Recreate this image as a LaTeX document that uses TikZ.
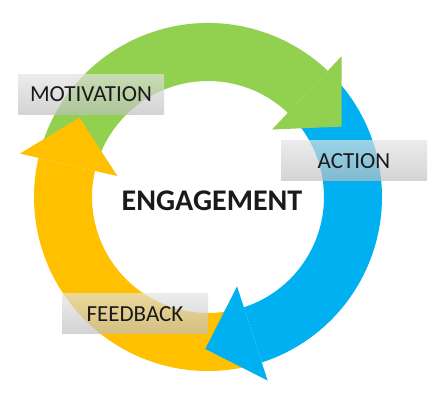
\documentclass[tikz,border=0pt]{standalone}
\usepackage{fontspec}
\setmainfont{Carlito}
\definecolor{cgreen}{HTML}{92D050}
\definecolor{cblue}{HTML}{00B0F0}
\definecolor{corange}{HTML}{FFC000}
\definecolor{ctext}{HTML}{1A1A1A}
\begin{document}
\begin{tikzpicture}[x=1pt,y=1pt,
  lbl/.style={minimum width=146pt, minimum height=40pt, inner sep=0pt,
    top color=gray!22, bottom color=gray!50, fill opacity=0.68, text opacity=1,
    font=\fontsize{23}{26}\selectfont, text=ctext},
]
\useasboundingbox (0,0) rectangle (448,404);
\fill[white] (0,0) rectangle (448,404);
\begin{scope}[shift={(208,207)}]
\def\Rin{116}
\def\Rout{174}
% ring bodies
\fill[cgreen] (162:\Rout) arc[start angle=162,end angle=46.5,radius=\Rout]
  -- (46.5:\Rin) arc[start angle=46.5,end angle=162,radius=\Rin] -- cycle;
\fill[cblue] (41.5:\Rout) arc[start angle=41.5,end angle=-72,radius=\Rout]
  -- (-72:\Rin) arc[start angle=-72,end angle=41.5,radius=\Rin] -- cycle;
\fill[corange] (-77:\Rout) arc[start angle=-77,end angle=-193,radius=\Rout]
  -- (-193:\Rin) arc[start angle=-193,end angle=-77,radius=\Rin] -- cycle;
% heads
\fill[cgreen] (46.5:194) -- (27.8:151) -- (46.5:93) -- cycle;
\fill[cblue] (-72:193) -- (-91:152) -- (-72:94) -- cycle;
\fill[corange] (167:193) -- (148.3:151) -- (167:93) -- cycle;
\end{scope}
% labels
\node[lbl] (mot) at (91,309.5) {MOTIVATION};
\node[lbl] (act) at (354,243) {ACTION};
\node[lbl] (fb) at (135,90) {FEEDBACK};
\node[font=\bfseries\fontsize{30}{34}\selectfont, text=ctext] (eng) at (212,203) {ENGAGEMENT};
\end{tikzpicture}
\end{document}
